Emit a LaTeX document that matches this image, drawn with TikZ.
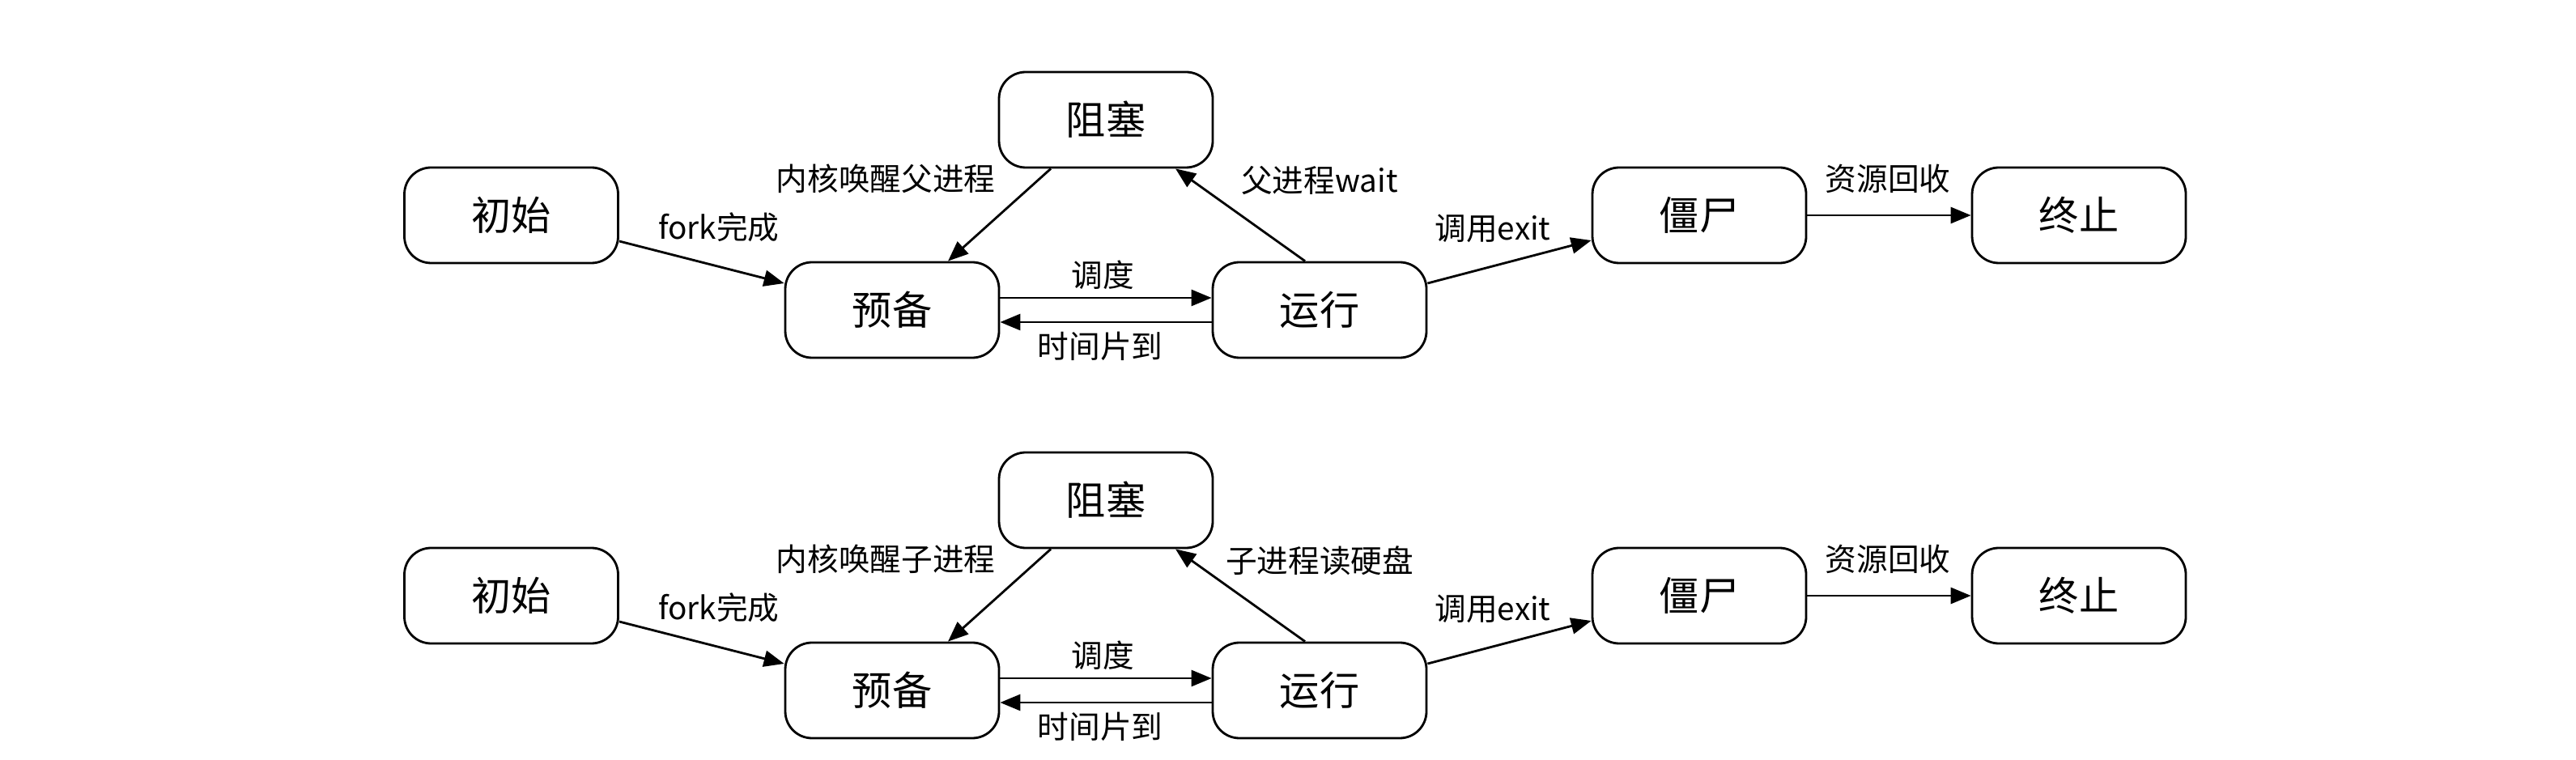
\documentclass[tikz,border=0pt]{standalone}
\usepackage{fontspec}
\newfontfamily\cjk{Noto Sans CJK SC}
\usetikzlibrary{arrows.meta}

\begin{document}
\begin{tikzpicture}[state/.style={rectangle,draw,rounded corners=0.33cm,line width=0.8pt,minimum width=2.64cm,minimum height=1.18cm,inner sep=0pt,font=\cjk\fontsize{14pt}{17pt}\selectfont},
	lab/.style={inner sep=0pt,font=\cjk\fontsize{11pt}{13pt}\selectfont},
	>={Triangle[length=0.25cm,width=0.2cm]}]
\useasboundingbox (0,0) rectangle (31.82,9.38);
\foreach \r/\dy/\wake/\sleep in {a/0/内核唤醒父进程/父进程wait,b/-4.7/内核唤醒子进程/子进程读硬盘}
{
	\begin{scope}[yshift=\dy cm]
	\node[state] (init\r) at (6.315,6.72) {初始};
	\node[state] (ready\r) at (11.02,5.55) {预备};
	\node[state] (block\r) at (13.66,7.90) {阻塞};
	\node[state] (run\r) at (16.30,5.55) {运行};
	\node[state] (zombie\r) at (20.99,6.72) {僵尸};
	\node[state] (end\r) at (25.68,6.72) {终止};
	\node[lab] (fork\r) at (8.88,6.57) {fork完成};
	\node[lab] (wake\r) at (10.94,7.17) {\wake};
	\node[lab] (sleep\r) at (16.30,7.15) {\sleep};
	\node[lab] (sched\r) at (13.62,5.98) {调度};
	\node[lab] (slice\r) at (13.59,5.10) {时间片到};
	\node[lab] (exit\r) at (18.44,6.56) {调用exit};
	\node[lab] (reap\r) at (23.32,7.17) {资源回收};
	\end{scope}
	\draw[->,line width=0.8pt] ([yshift=-0.32cm]init\r.east) -- ([yshift=0.33cm]ready\r.west);
	\draw[->,line width=0.8pt] ([xshift=-0.68cm]block\r.south) -- ([xshift=0.69cm]ready\r.north);
	\draw[->,line width=0.8pt] ([xshift=-0.18cm]run\r.north) -- ([xshift=0.86cm]block\r.south);
	\draw[->,line width=0.8pt] ([yshift=0.15cm]ready\r.east) -- ([yshift=0.15cm]run\r.west);
	\draw[->,line width=0.8pt] ([yshift=-0.15cm]run\r.west) -- ([yshift=-0.15cm]ready\r.east);
	\draw[->,line width=0.8pt] ([yshift=0.33cm]run\r.east) -- ([yshift=-0.31cm]zombie\r.west);
	\draw[->,line width=0.8pt] (zombie\r) -- (end\r);
}
\end{tikzpicture}
\end{document}
